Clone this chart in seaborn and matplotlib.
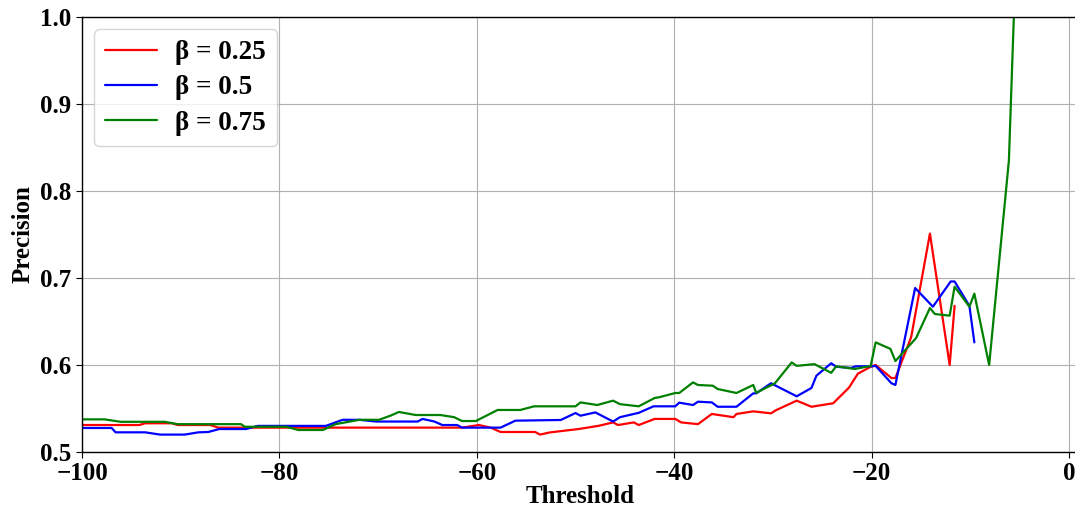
import matplotlib
matplotlib.use("Agg")
import matplotlib.pyplot as plt
import seaborn as sns
import pandas as pd

# ==========================
# DATA
# ==========================
red_x = [-100, -94.2, -93.6, -90.9, -90.3, -87.0, -86.2, -61.5, -59.8, -58.6, -57.6,
         -54.1, -53.6, -52.6, -51.7, -49.7, -47.7, -46.2, -45.7, -44.1, -43.6, -42.0,
         -39.9, -39.3, -37.6, -36.2, -34.0, -33.7, -32.0, -30.2, -29.7, -27.6, -26.1,
         -23.9, -22.3, -21.4, -20.1, -19.6, -18.0, -17.6, -16.0, -14.1, -12.1, -11.6]
red_y = [0.531, 0.531, 0.533, 0.533, 0.531, 0.531, 0.528, 0.528, 0.531, 0.528, 0.523,
         0.523, 0.520, 0.5225, 0.5237, 0.5264, 0.530, 0.534, 0.531, 0.534, 0.531, 0.538,
         0.538, 0.534, 0.532, 0.5437, 0.540, 0.5437, 0.5467, 0.5444, 0.548, 0.559, 0.552,
         0.556, 0.574, 0.590, 0.598, 0.600, 0.585, 0.585, 0.632, 0.751, 0.600, 0.668]

blue_x = [-100, -97.0, -96.6, -93.6, -92.1, -89.6, -88.2, -87.2, -86.1, -83.4, -82.2,
          -75.3, -73.6, -71.9, -70.2, -66.0, -65.5, -64.3, -63.5, -62.0, -61.5, -57.6,
          -56.1, -51.5, -50.0, -49.5, -48.0, -46.2, -45.5, -44.1, -43.6, -42.1, -39.9,
          -39.5, -38.1, -37.6, -36.2, -35.6, -33.7, -32.0, -31.7, -30.2, -27.6, -26.1,
          -25.6, -24.1, -23.6, -22.1, -21.6, -19.9, -19.6, -18.0, -17.6, -15.6, -13.8,
          -12.0, -11.6, -10.1, -9.6]
blue_y = [0.5276, 0.5276, 0.5226, 0.5226, 0.520, 0.520, 0.5226, 0.523, 0.5264, 0.5264, 0.530,
          0.530, 0.537, 0.537, 0.535, 0.535, 0.538, 0.535, 0.531, 0.531, 0.528, 0.528,
          0.536, 0.5368, 0.5448, 0.5417, 0.5455, 0.535, 0.540, 0.5437, 0.545, 0.5525, 0.5525,
          0.5567, 0.554, 0.5578, 0.557, 0.552, 0.552, 0.5674, 0.5674, 0.579, 0.564, 0.5736,
          0.5877, 0.602, 0.598, 0.5966, 0.5985, 0.5985, 0.599, 0.579, 0.577, 0.6885, 0.667,
          0.696, 0.696, 0.668, 0.626]

green_x = [-100, -97.7, -96.1, -91.6, -90.3, -83.9, -83.5, -79.3, -78.1, -75.6, -74.3,
           -71.9, -69.9, -68.7, -67.9, -66.2, -63.7, -62.3, -61.5, -60.1, -57.9, -55.6,
           -54.2, -50.0, -49.5, -47.8, -46.2, -45.5, -43.6, -42.0, -41.5, -39.9, -39.5,
           -38.1, -37.6, -36.1, -35.6, -33.7, -32.0, -31.7, -29.8, -28.1, -27.6, -25.8,
           -24.1, -23.6, -21.7, -20.1, -19.6, -18.1, -17.6, -15.5, -14.1, -13.6, -12.1,
           -11.6, -10.1, -9.6, -8.1, -6.1, -5.6]
green_y = [0.5375, 0.5375, 0.5347, 0.5347, 0.532, 0.532, 0.529, 0.529, 0.5253, 0.5253, 0.532,
           0.537, 0.537, 0.542, 0.546, 0.5425, 0.5425, 0.540, 0.5356, 0.5356, 0.5483, 0.5483,
           0.5525, 0.5525, 0.557, 0.554, 0.559, 0.555, 0.5525, 0.562, 0.563, 0.5678, 0.5678,
           0.580, 0.577, 0.5762, 0.5724, 0.5678, 0.577, 0.568, 0.579, 0.603, 0.599, 0.601,
           0.591, 0.5985, 0.5954, 0.599, 0.626, 0.6185, 0.6045, 0.631, 0.6655, 0.6586, 0.6567,
           0.690, 0.667, 0.682, 0.600, 0.835, 1.0]

labels = ['β = 0.25', 'β = 0.5', 'β = 0.75']
colors = ['red', 'blue', 'green']

df = pd.concat([
    pd.DataFrame({'Threshold': red_x, 'Precision': red_y, 'beta': labels[0]}),
    pd.DataFrame({'Threshold': blue_x, 'Precision': blue_y, 'beta': labels[1]}),
    pd.DataFrame({'Threshold': green_x, 'Precision': green_y, 'beta': labels[2]}),
], ignore_index=True)

# ==========================
# STYLE
# ==========================
sns.set_style('ticks')
plt.rcParams['font.family'] = ['Liberation Serif', 'DejaVu Serif']
plt.rcParams['font.weight'] = 'bold'
plt.rcParams['axes.labelweight'] = 'bold'
plt.rcParams['text.color'] = 'black'
plt.rcParams['axes.labelcolor'] = 'black'
plt.rcParams['xtick.color'] = 'black'
plt.rcParams['ytick.color'] = 'black'

fig = plt.figure(figsize=(10.75, 5.09), dpi=100)
ax = fig.add_axes([0.0763, 0.112, 0.9274, 0.8546])

sns.lineplot(data=df, x='Threshold', y='Precision', hue='beta',
             palette=dict(zip(labels, colors)), estimator=None, sort=False,
             linewidth=1.6, ax=ax)

ax.set_xlim(-100, 1)
ax.set_ylim(0.5, 1.0)
ax.set_xticks([-100, -80, -60, -40, -20, 0])
ax.set_yticks([0.5, 0.6, 0.7, 0.8, 0.9, 1.0])
ax.grid(True, color='#b0b0b0', linewidth=0.8)
for s in ax.spines.values():
    s.set_color('black')
    s.set_linewidth(1.0)
ax.tick_params(labelsize=18, colors='black', length=4)
for lbl in ax.get_xticklabels() + ax.get_yticklabels():
    lbl.set_fontweight('bold')
ax.set_xlabel('Threshold', fontsize=18, fontweight='bold', labelpad=0)
ax.set_ylabel('Precision', fontsize=18, fontweight='bold', labelpad=4)

leg = ax.legend(loc='upper left', prop={'size': 19.5, 'weight': 'bold'},
                frameon=True, fancybox=True, borderaxespad=0.45,
                labelspacing=0.38, handlelength=1.9, handletextpad=0.7,
                borderpad=0.4)
leg.get_frame().set_edgecolor('#cccccc')
for t in leg.get_texts():
    t.set_color('black')

fig.savefig('out.png', dpi=100)
